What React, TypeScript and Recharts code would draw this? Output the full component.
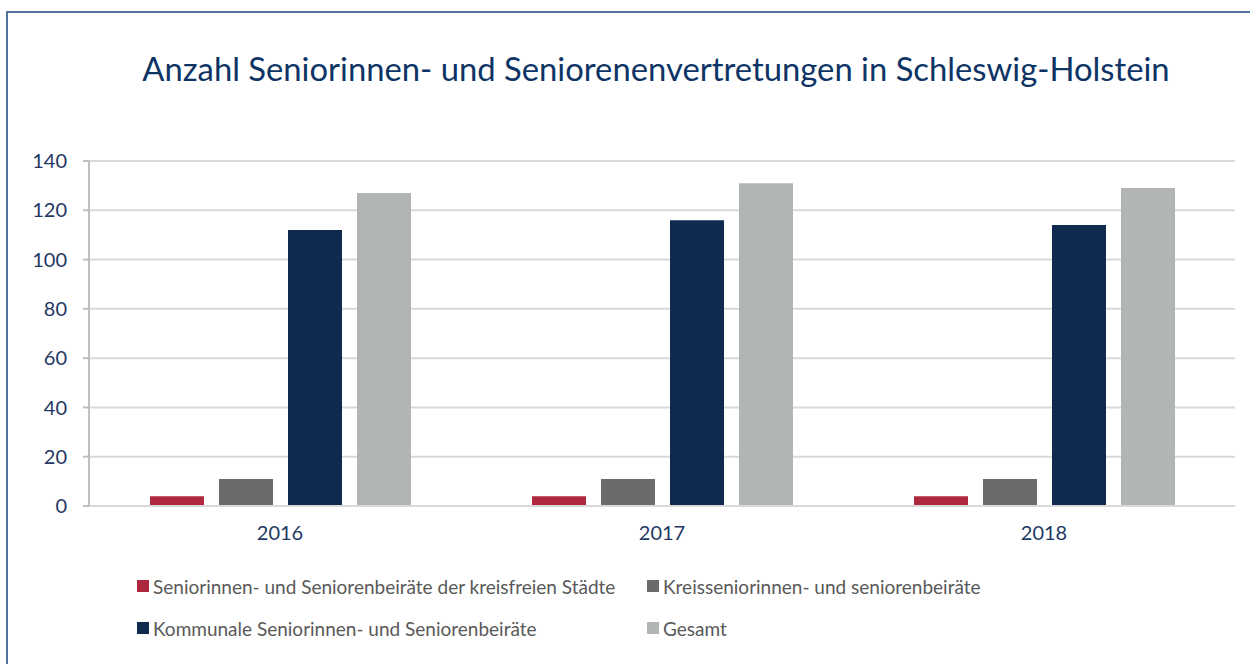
import React from "react";
import { BarChart, Bar, XAxis, YAxis, CartesianGrid, Legend } from "recharts";

const years = ["2016", "2017", "2018"];
const kreisfreieStaedte = [4, 4, 4];
const kreisBeiraete = [11, 11, 11];
const kommunaleBeiraete = [112, 116, 114];
const gesamt = [127, 131, 129];
const yTicks = [0, 20, 40, 60, 80, 100, 120, 140];

const seriesNames = [
  "Seniorinnen- und Seniorenbeiräte der kreisfreien Städte",
  "Kreisseniorinnen- und seniorenbeiräte",
  "Kommunale Seniorinnen- und Seniorenbeiräte",
  "Gesamt",
];
const seriesKeys = ["kreisfrei", "kreis", "kommunal", "gesamt"];
const seriesColors = ["#ad283e", "#6b6b6b", "#0f2a4e", "#b2b5b6"];

const data = years.map((y, i) => ({
  year: y,
  kreisfrei: kreisfreieStaedte[i],
  kreis: kreisBeiraete[i],
  kommunal: kommunaleBeiraete[i],
  gesamt: gesamt[i],
}));

const FONT = "Lato, 'Noto Sans', sans-serif";

const LegendContent = () => {
  const order = [0, 1, 2, 3];
  return (
    <div
      style={{
        display: "grid",
        gridTemplateColumns: "510px 510px",
        rowGap: 22,
        paddingLeft: 137,
        fontFamily: FONT,
        fontSize: 19,
        color: "#595959",
      }}
    >
      {order.map((i) => (
        <div key={i} style={{ display: "flex", alignItems: "center", height: 20 }}>
          <span
            style={{
              display: "inline-block",
              width: 12,
              height: 12,
              background: seriesColors[i],
              marginRight: 4,
              flex: "0 0 auto",
            }}
          />
          <span style={{ whiteSpace: "nowrap" }}>{seriesNames[i]}</span>
        </div>
      ))}
    </div>
  );
};

export default function App() {
  return (
    <div
      style={{
        position: "absolute",
        left: 0,
        top: 0,
        width: 1250,
        height: 664,
        overflow: "hidden",
        background: "#ffffff",
      }}
    >
      <div
        style={{
          position: "absolute",
          left: 6,
          top: 11,
          width: 1400,
          height: 800,
          borderLeft: "2px solid #52739e",
          borderTop: "2px solid #52739e",
        }}
      />
      <div
        style={{
          position: "absolute",
          left: 56,
          top: 52,
          width: 1200,
          textAlign: "center",
          fontFamily: FONT,
          fontSize: 32.8,
          lineHeight: "33px",
          color: "#0e3466",
          whiteSpace: "nowrap",
        }}
      >
        Anzahl Seniorinnen- und Seniorenenvertretungen in Schleswig-Holstein
      </div>
      <div style={{ position: "absolute", left: 0, top: 0 }}>
        <BarChart
          width={1250}
          height={664}
          data={data}
          margin={{ top: 161, right: 15, left: 0, bottom: 128 }}
          barGap={15}
        >
          <CartesianGrid vertical={false} stroke="#d9d9d9" strokeWidth={2} />
          <XAxis
            dataKey="year"
            height={30}
            tickLine={false}
            tickSize={0}
            tickMargin={20}
            axisLine={{ stroke: "#d9d9d9", strokeWidth: 2 }}
            tick={{ fill: "#1f3864", fontSize: 20, fontFamily: FONT }}
          />
          <YAxis
            width={89}
            domain={[0, 140]}
            ticks={yTicks}
            interval={0}
            tickSize={6}
            tickMargin={16}
            axisLine={{ stroke: "#bfbfbf", strokeWidth: 2 }}
            tickLine={{ stroke: "#bfbfbf", strokeWidth: 2 }}
            tick={{ fill: "#1f3864", fontSize: 20, fontFamily: FONT }}
          />
          <Legend
            layout="vertical"
            align="center"
            verticalAlign="middle"
            content={<LegendContent />}
            wrapperStyle={{ position: "absolute", left: 0, top: 576, width: 1250 }}
          />
          {seriesKeys.map((k, i) => (
            <Bar
              key={k}
              dataKey={k}
              name={seriesNames[i]}
              fill={seriesColors[i]}
              barSize={54}
              isAnimationActive={false}
            />
          ))}
        </BarChart>
      </div>
    </div>
  );
}
